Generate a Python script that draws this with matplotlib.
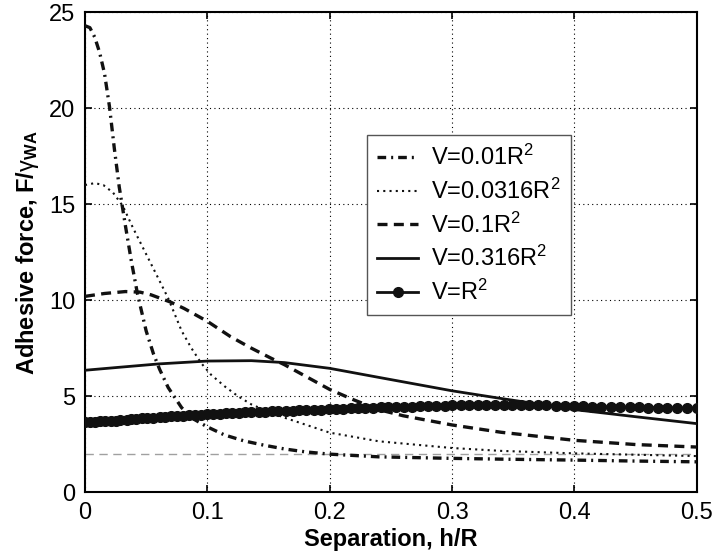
import matplotlib
matplotlib.use('Agg')
import matplotlib.pyplot as plt

plt.rcParams['font.family'] = ['Liberation Sans', 'DejaVu Sans']
plt.rcParams['mathtext.fontset'] = 'custom'
plt.rcParams['mathtext.rm'] = 'Liberation Sans'
plt.rcParams['mathtext.it'] = 'Liberation Sans:italic'
plt.rcParams['mathtext.bf'] = 'Liberation Sans:bold'

# V = 0.01 R^2 (dash-dot)
x_001 = [0, 0.004, 0.008, 0.012, 0.016, 0.020, 0.024, 0.028, 0.033, 0.038, 0.043, 0.050,
         0.056, 0.061, 0.068, 0.079, 0.089, 0.100, 0.114, 0.130, 0.146, 0.163, 0.180, 0.200,
         0.240, 0.300, 0.340, 0.400, 0.450, 0.500]
y_001 = [24.3, 24.2, 23.7, 22.9, 21.8, 20.1, 17.9, 15.9, 13.9, 12.0, 10.3, 8.4,
         7.2, 6.4, 5.45, 4.4, 3.8, 3.4, 2.98, 2.67, 2.45, 2.25, 2.1, 1.98,
         1.84, 1.76, 1.72, 1.67, 1.62, 1.58]

# V = 0.0316 R^2 (dotted)
x_0316 = [0, 0.008, 0.015, 0.023, 0.031, 0.039, 0.050, 0.061, 0.068, 0.079, 0.087, 0.095,
          0.103, 0.114, 0.125, 0.136, 0.152, 0.163, 0.200, 0.240, 0.300, 0.340, 0.400,
          0.450, 0.500]
y_0316 = [16.0, 16.1, 16.0, 15.6, 14.9, 13.8, 12.4, 11.0, 10.1, 8.4, 7.5, 6.72,
          6.12, 5.52, 5.0, 4.57, 4.14, 3.88, 3.1, 2.65, 2.3, 2.15, 2.02,
          1.95, 1.88]

# V = 0.1 R^2 (dashed)
x_01 = [0, 0.016, 0.033, 0.045, 0.054, 0.070, 0.081, 0.100, 0.119, 0.136, 0.152, 0.163,
        0.200, 0.220, 0.240, 0.260, 0.300, 0.340, 0.400, 0.450, 0.500]
y_01 = [10.2, 10.35, 10.45, 10.42, 10.28, 9.9, 9.57, 8.9, 8.1, 7.5, 6.98, 6.64,
        5.35, 4.8, 4.3, 3.98, 3.5, 3.12, 2.7, 2.48, 2.35]

# V = 0.316 R^2 (solid)
x_0316b = [0, 0.027, 0.060, 0.100, 0.136, 0.163, 0.200, 0.240, 0.300, 0.340, 0.380,
           0.400, 0.450, 0.500]
y_0316b = [6.35, 6.5, 6.68, 6.83, 6.85, 6.75, 6.45, 5.98, 5.28, 4.88, 4.5,
           4.3, 3.93, 3.57]

# V = R^2 (solid with dots)
x_1 = [0.000, 0.004, 0.008, 0.012, 0.016, 0.021, 0.025, 0.029, 0.034, 0.038,
       0.042, 0.047, 0.051, 0.056, 0.061, 0.065, 0.070, 0.075, 0.080, 0.085,
       0.090, 0.095, 0.100, 0.105, 0.110, 0.115, 0.120, 0.126, 0.131, 0.136,
       0.142, 0.147, 0.153, 0.158, 0.164, 0.170, 0.175, 0.181, 0.187, 0.193,
       0.199, 0.205, 0.211, 0.217, 0.223, 0.229, 0.235, 0.242, 0.248, 0.254,
       0.261, 0.267, 0.274, 0.280, 0.287, 0.294, 0.300, 0.307, 0.314, 0.321,
       0.328, 0.335, 0.342, 0.349, 0.356, 0.363, 0.370, 0.377, 0.385, 0.392,
       0.400, 0.407, 0.414, 0.422, 0.430, 0.437, 0.445, 0.453, 0.460, 0.468,
       0.476, 0.484, 0.492, 0.500]
y_1 = [3.65, 3.66, 3.67, 3.69, 3.70, 3.71, 3.73, 3.75, 3.77, 3.79,
       3.81, 3.84, 3.86, 3.88, 3.91, 3.93, 3.95, 3.97, 3.98, 4.00,
       4.02, 4.03, 4.05, 4.07, 4.08, 4.10, 4.12, 4.14, 4.15, 4.17,
       4.18, 4.20, 4.21, 4.23, 4.24, 4.25, 4.26, 4.28, 4.29, 4.30,
       4.32, 4.33, 4.34, 4.36, 4.37, 4.39, 4.40, 4.42, 4.43, 4.44,
       4.45, 4.46, 4.48, 4.49, 4.50, 4.51, 4.52, 4.52, 4.53, 4.53,
       4.54, 4.54, 4.54, 4.54, 4.53, 4.53, 4.52, 4.52, 4.51, 4.50,
       4.48, 4.47, 4.46, 4.45, 4.45, 4.44, 4.43, 4.42, 4.41, 4.41,
       4.40, 4.39, 4.39, 4.38]

ref_level = 2.0
xticks = [0, 0.1, 0.2, 0.3, 0.4, 0.5]
xticklabels = ['0', '0.1', '0.2', '0.3', '0.4', '0.5']
yticks = [0, 5, 10, 15, 20, 25]

fig = plt.figure(figsize=(7.14, 5.58), dpi=100)
fig.subplots_adjust(left=0.119, right=0.976, bottom=0.118, top=0.978)
ax = fig.add_subplot(111)

ax.axhline(ref_level, color='#a0a0a0', lw=1.0, dashes=(6, 4), zorder=1)
ax.plot(x_001, y_001, color='#111111', lw=2.4, dashes=(2.6, 1.5, 0.6, 1.5),
        label=r'V=0.01$\mathregular{R^2}$', zorder=3)
ax.plot(x_0316, y_0316, color='#111111', lw=1.5, dashes=(1, 2.0),
        label=r'V=0.0316$\mathregular{R^2}$', zorder=3)
ax.plot(x_01, y_01, color='#111111', lw=2.4, dashes=(3.0, 1.9),
        label=r'V=0.1$\mathregular{R^2}$', zorder=3)
ax.plot(x_0316b, y_0316b, color='#111111', lw=2.0,
        label=r'V=0.316$\mathregular{R^2}$', zorder=3)
ax.plot(x_1, y_1, color='#111111', lw=2.0, marker='o', markersize=7,
        label=r'V=$\mathregular{R^2}$', zorder=3)

ax.set_xlim(0, 0.5)
ax.set_ylim(0, 25)
ax.set_xticks(xticks)
ax.set_xticklabels(xticklabels)
ax.set_yticks(yticks)
ax.grid(True, color='black', lw=0.8, dashes=(1, 3))
ax.tick_params(direction='in', length=5, width=1.2, top=True, right=True,
               labelsize=17, pad=7)
for sp in ax.spines.values():
    sp.set_linewidth(1.5)

ax.set_xlabel('Separation, h/R', fontsize=17, fontweight='bold', labelpad=3)
ax.set_ylabel(r'Adhesive force, F/$\mathrm{\gamma}_{\mathbf{WA}}$', fontsize=17,
              fontweight='bold', labelpad=6)

leg = ax.legend(loc='upper left', bbox_to_anchor=(0.461, 0.744), fontsize=17,
                fancybox=False, framealpha=1, edgecolor='#555555',
                handlelength=1.75, handletextpad=0.55, labelspacing=0.36,
                borderpad=0.42, borderaxespad=0)
leg.get_frame().set_linewidth(1.0)

fig.savefig('out.png', dpi=100)
